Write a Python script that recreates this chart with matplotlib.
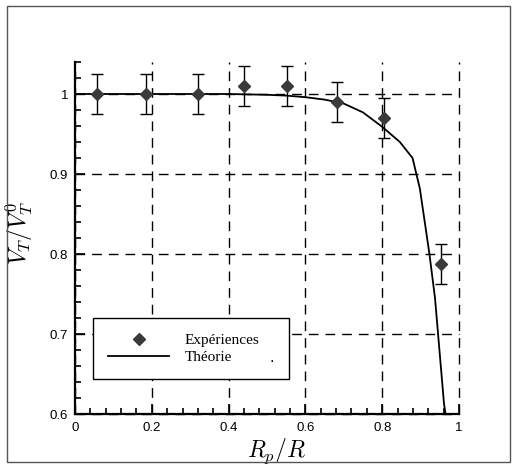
import matplotlib
matplotlib.use('Agg')
import matplotlib.pyplot as plt
from matplotlib.patches import Rectangle
from matplotlib.ticker import MultipleLocator, FixedLocator

plt.rcParams['mathtext.fontset'] = 'cm'
plt.rcParams['font.family'] = ['Liberation Sans', 'DejaVu Sans']

# experimental points
rp_exp = [0.057, 0.185, 0.32, 0.44, 0.553, 0.683, 0.805, 0.952]
vt_exp = [1.0, 1.0, 1.0, 1.01, 1.01, 0.99, 0.97, 0.788]
vt_err = [0.025, 0.025, 0.025, 0.025, 0.025, 0.025, 0.025, 0.025]

# theory curve
rp_th = [0.0, 0.1, 0.2, 0.3, 0.4, 0.5, 0.55, 0.6, 0.65, 0.7, 0.75, 0.8, 0.846, 0.879,
         0.898, 0.923, 0.9375, 0.961, 0.965]
vt_th = [1.0, 1.0, 1.0, 1.0, 1.0, 0.999, 0.998, 0.996, 0.993, 0.988, 0.977, 0.959, 0.94, 0.92,
         0.882, 0.8, 0.745, 0.6125, 0.6]

xticks = [0, 0.2, 0.4, 0.6, 0.8, 1.0]
xticklabels = ['0', '0.2', '0.4', '0.6', '0.8', '1']
yticks = [0.6, 0.7, 0.8, 0.9, 1.0]
yticklabels = ['0.6', '0.7', '0.8', '0.9', '1']

fig = plt.figure(figsize=(5.16, 4.66), dpi=100)
ax = fig.add_axes([75/516, 52/466, 384/516, 352/466])

# figure frame
fig.patches.append(Rectangle((7/516, 4/466), 503/516, 456/466, transform=fig.transFigure,
                             fill=False, edgecolor='#555555', lw=1))

ax.plot(rp_th, vt_th, color='black', lw=1.3, label='Théorie', zorder=3)
ax.errorbar(rp_exp, vt_exp, yerr=vt_err, fmt='none', ecolor='black',
            elinewidth=1, capsize=4.5, capthick=1, zorder=4)
ax.plot(rp_exp, vt_exp, 'D', color='#3a3a3a', markersize=6, label='Expériences', zorder=5)

ax.set_xlim(0, 1)
ax.set_ylim(0.6, 1.04)
ax.xaxis.set_major_locator(FixedLocator(xticks))
ax.set_xticklabels(xticklabels)
ax.yaxis.set_major_locator(FixedLocator(yticks))
ax.set_yticklabels(yticklabels)
ax.xaxis.set_minor_locator(MultipleLocator(0.04))
ax.yaxis.set_minor_locator(MultipleLocator(0.02))
ax.tick_params(which='both', direction='in', labelsize=9.5, width=1.2)
ax.tick_params(which='major', length=7, pad=5)
ax.tick_params(which='minor', length=4)
ax.tick_params(axis='x', which='major', pad=6)

for s in ['top', 'right']:
    ax.spines[s].set_visible(False)
for s in ['left', 'bottom']:
    ax.spines[s].set_linewidth(1.6)

ax.grid(True, which='major', color='black', lw=1, linestyle=(0, (7, 5)))
for gl in ax.get_xgridlines() + ax.get_ygridlines():
    gl.set_clip_on(False)
ax.set_axisbelow(True)

ax.set_xlabel(r'$R_p/R$', fontsize=17)
ax.xaxis.set_label_coords(0.526, -0.065)
ax.set_ylabel(r'$V_T/V_T^0$', fontsize=17)
ax.yaxis.set_label_coords(-0.105, 0.514)

h, l = ax.get_legend_handles_labels()
leg = ax.legend(h[::-1], l[::-1], loc='lower left', bbox_to_anchor=(0.047, 0.099, 0.51, 0.19),
                mode='expand', borderaxespad=0, fancybox=False, framealpha=1, edgecolor='black',
                prop={'family': 'Liberation Serif', 'size': 11}, handlelength=4.0,
                handletextpad=1.0, borderpad=1.0, labelspacing=0.2)
leg.get_frame().set_linewidth(1.0)
leg.set_zorder(10)
ax.text(0.507, 0.148, '.', transform=ax.transAxes, fontsize=12, zorder=11)

fig.savefig('out.png', dpi=100)
